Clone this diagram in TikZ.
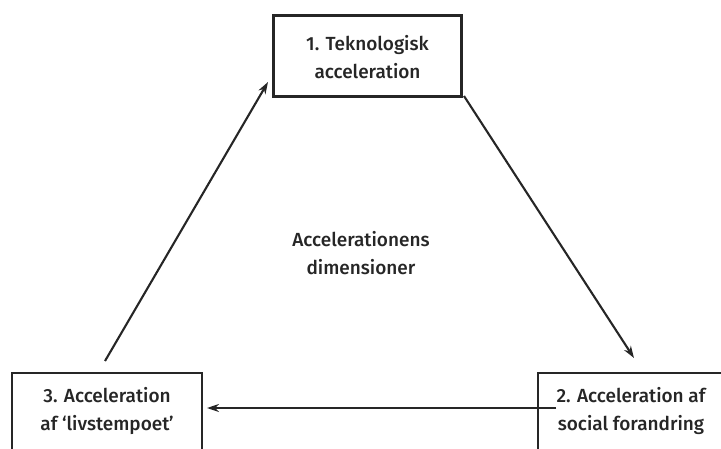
\documentclass[tikz,border=0pt]{standalone}
\usepackage{fontspec}
\setmainfont{Fira Sans}[UprightFont=* Medium]
\usetikzlibrary{arrows.meta}
\begin{document}
\begin{tikzpicture}[x=1pt,y=-1pt,
  boxstyle/.style={draw=black!85,line width=2.4pt,fill=white},
  lbl/.style={font=\fontsize{19}{28}\selectfont,align=center,text=black!85},
  conn/.style={draw=black!85,line width=2.1pt,-{Stealth[length=12pt,width=8pt]}}]
\useasboundingbox (0,0) rectangle (721,448);
\clip (0,0) rectangle (721,448);
\node[boxstyle,minimum width=188pt,minimum height=81pt,inner sep=0pt] (top) at (367.5,56) {};
\node[lbl] (topt) at (367.5,57) {1. Teknologisk\\acceleration};
\node[boxstyle,minimum width=190pt,minimum height=100pt,inner sep=0pt] (bl) at (107,423) {};
\node[lbl] (blt) at (107,411) {3. Acceleration\\af ‘livstempoet’};
\node[boxstyle,minimum width=200pt,minimum height=100pt,inner sep=0pt] (br) at (638,423) {};
\node[lbl] (brt) at (631,411) {2. Acceleration af\\social forandring};
\node[lbl] (mid) at (361,253) {Accelerationens\\dimensioner};
\coordinate (a1s) at (105,361);
\coordinate (a1e) at (268,82);
\coordinate (a2s) at (464,96);
\coordinate (a2e) at (634,358);
\coordinate (a3s) at (556,408);
\coordinate (a3e) at (207,408);
\draw[conn] (a1s) -- (a1e);
\draw[conn] (a2s) -- (a2e);
\draw[conn] (a3s) -- (a3e);
\end{tikzpicture}
\end{document}
